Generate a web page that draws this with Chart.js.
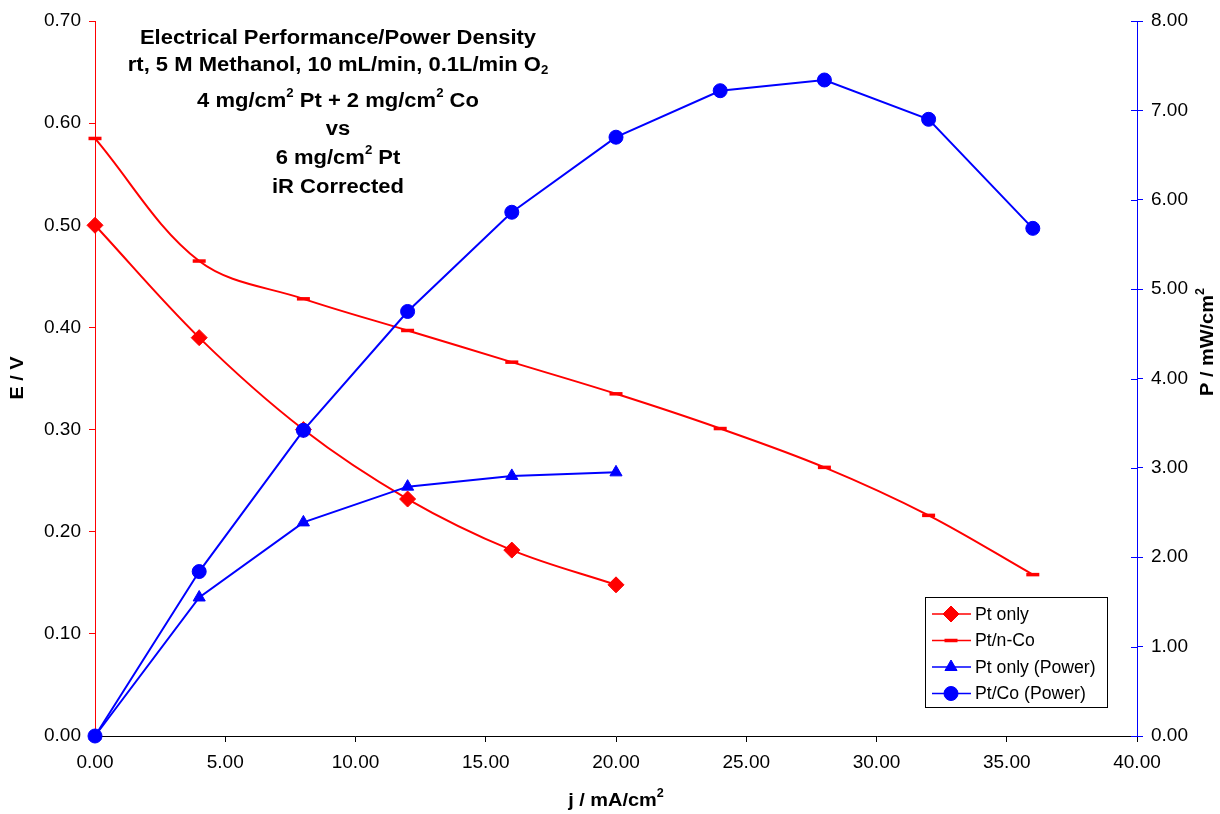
<!DOCTYPE html>
<html>
<head>
<meta charset="utf-8">
<script src="https://cdn.jsdelivr.net/npm/chart.js@4"></script>
<style>
  html, body { margin: 0; padding: 0; background: #fff; }
  #wrap { width: 1220px; height: 814px; }
</style>
</head>
<body>
<div id="wrap"><canvas id="myChart" width="1220" height="814"></canvas></div>
<script>
// current density, mA/cm2
const jPtOnly = [0, 4, 8, 12, 16, 20];
const jPtCo = [0, 4, 8, 12, 16, 20, 24, 28, 32, 36];

// cell voltage, V
const ePtOnly = [0.500, 0.390, 0.300, 0.232, 0.182, 0.148];
const ePtCo = [0.585, 0.465, 0.428, 0.397, 0.366, 0.335, 0.301, 0.263, 0.216, 0.158];

// power density, mW/cm2
const pPtOnly = [0, 1.55, 2.39, 2.79, 2.91, 2.95];
const pPtCo = [0, 1.84, 3.42, 4.75, 5.86, 6.70, 7.22, 7.34, 6.90, 5.68];

const seriesNames = ['Pt only', 'Pt/n-Co', 'Pt only (Power)', 'Pt/Co (Power)'];

const titleLines = [
    [['Electrical Performance/Power Density']],
    [['rt, 5 M Methanol, 10 mL/min, 0.1L/min O'], ['2', 'sub']],
    [['4 mg/cm'], ['2', 'sup'], [' Pt + 2 mg/cm'], ['2', 'sup'], [' Co']],
    [['vs']],
    [['6 mg/cm'], ['2', 'sup'], [' Pt']],
    [['iR Corrected']]
];

const FONT = '"Liberation Sans", Arial, Helvetica, sans-serif';
const RED = '#ff0000';
const BLUE = '#0000ff';

function pairs(xs, ys) {
    return xs.map((x, i) => ({ x: x, y: ys[i] }));
}

// draws a line made of plain / superscript / subscript pieces, centred on cx
// (stretch widens the text a little, the original looks wider than Arial)
function drawRich(ctx, parts, cx, cy, size, stretch) {
    stretch = stretch || 1;
    const big = `bold ${size}px ${FONT}`;
    const small = `bold ${Math.round(size * 0.62)}px ${FONT}`;
    let total = 0;
    parts.forEach(p => {
        ctx.font = p[1] ? small : big;
        total += ctx.measureText(p[0]).width;
    });
    ctx.save();
    ctx.translate(cx, cy);
    ctx.scale(stretch, 1);
    let x = -total / 2;
    ctx.textAlign = 'left';
    ctx.textBaseline = 'middle';
    parts.forEach(p => {
        ctx.font = p[1] ? small : big;
        let dy = 0;
        if (p[1] === 'sup') dy = -size * 0.38;
        if (p[1] === 'sub') dy = size * 0.3;
        ctx.fillText(p[0], x, dy);
        x += ctx.measureText(p[0]).width;
    });
    ctx.restore();
}

const decorPlugin = {
    id: 'decor',
    afterDraw: (chart) => {
        const ctx = chart.ctx;
        const area = chart.chartArea;
        ctx.save();
        ctx.fillStyle = '#000';

        // title block inside the plot
        const tops = [38, 65, 101, 129, 158, 187];
        titleLines.forEach((line, i) => drawRich(ctx, line, 338, tops[i], 20, 1.1));

        // axis titles
        drawRich(ctx, [['j / mA/cm'], ['2', 'sup']], 616, 801, 19, 1.05);
        ctx.save();
        ctx.translate(18, 378);
        ctx.rotate(-Math.PI / 2);
        drawRich(ctx, [['E / V']], 0, 0, 19, 1.05);
        ctx.restore();
        ctx.save();
        ctx.translate(1208, 342);
        ctx.rotate(-Math.PI / 2);
        drawRich(ctx, [['P / mW/cm'], ['2', 'sup']], 0, 0, 19, 1.05);
        ctx.restore();

        // inner half of the right axis tick marks
        const y1 = chart.scales.y1;
        ctx.strokeStyle = BLUE;
        ctx.lineWidth = 1;
        y1.ticks.forEach(t => {
            const py = Math.round(y1.getPixelForValue(t.value)) + 0.5;
            ctx.beginPath();
            ctx.moveTo(area.right - 6, py);
            ctx.lineTo(area.right, py);
            ctx.stroke();
        });

        // legend box
        const lx = 925, ly = 597, lw = 182, lh = 110;
        ctx.fillStyle = '#fff';
        ctx.fillRect(lx, ly, lw, lh);
        ctx.strokeStyle = '#000';
        ctx.lineWidth = 1;
        ctx.strokeRect(lx + 0.5, ly + 0.5, lw, lh);
        chart.data.datasets.forEach((ds, i) => {
            const rowY = 614 + i * 26.5;
            ctx.strokeStyle = ds.borderColor;
            ctx.lineWidth = 1.5;
            ctx.beginPath();
            ctx.moveTo(932, rowY);
            ctx.lineTo(971, rowY);
            ctx.stroke();
            ctx.fillStyle = ds.borderColor;
            ctx.strokeStyle = ds.borderColor;
            ctx.lineWidth = ds.pointBorderWidth || 1;
            Chart.helpers.drawPoint(ctx, {
                pointStyle: ds.pointStyle,
                radius: ds.pointRadius,
                rotation: 0,
                borderWidth: ds.pointBorderWidth || 1
            }, 951, rowY);
            ctx.fillStyle = '#000';
            ctx.font = `18px ${FONT}`;
            ctx.textAlign = 'left';
            ctx.textBaseline = 'middle';
            ctx.save();
            ctx.translate(975, rowY + 1);
            ctx.scale(0.98, 1);
            ctx.fillText(ds.label, 0, 0);
            ctx.restore();
        });
        ctx.restore();
    }
};

const tickFont = { family: FONT, size: 19 };

const configuration = {
    type: 'line',
    data: {
        datasets: [
            {
                label: seriesNames[0],
                data: pairs(jPtOnly, ePtOnly),
                yAxisID: 'y',
                borderColor: RED,
                backgroundColor: RED,
                borderWidth: 2,
                tension: 0.35,
                pointStyle: 'rectRot',
                pointRadius: 8,
                pointBorderWidth: 1,
                clip: false,
                order: 3
            },
            {
                label: seriesNames[1],
                data: pairs(jPtCo, ePtCo),
                yAxisID: 'y',
                borderColor: RED,
                backgroundColor: RED,
                borderWidth: 2,
                tension: 0.35,
                pointStyle: 'line',
                pointRadius: 6.5,
                pointBorderWidth: 3.5,
                clip: false,
                order: 2
            },
            {
                label: seriesNames[2],
                data: pairs(jPtOnly, pPtOnly),
                yAxisID: 'y1',
                borderColor: BLUE,
                backgroundColor: BLUE,
                borderWidth: 2,
                tension: 0,
                pointStyle: 'triangle',
                pointRadius: 7,
                pointBorderWidth: 1,
                clip: false,
                order: 1
            },
            {
                label: seriesNames[3],
                data: pairs(jPtCo, pPtCo),
                yAxisID: 'y1',
                borderColor: BLUE,
                backgroundColor: BLUE,
                borderWidth: 2,
                tension: 0,
                pointStyle: 'circle',
                pointRadius: 7,
                pointBorderWidth: 1,
                clip: false,
                order: 0
            }
        ]
    },
    options: {
        responsive: false,
        animation: false,
        layout: { padding: { top: 21, left: 0, right: 0, bottom: 0 } },
        plugins: {
            legend: { display: false },
            title: { display: false },
            tooltip: { enabled: false }
        },
        scales: {
            x: {
                type: 'linear',
                min: 0,
                max: 40,
                ticks: {
                    stepSize: 5,
                    color: '#000',
                    font: tickFont,
                    padding: 9,
                    maxRotation: 0,
                    callback: (v) => v.toFixed(2)
                },
                grid: { drawOnChartArea: false, tickLength: 6, color: '#000' },
                border: { color: '#000', width: 1 },
                afterFit: (scale) => { scale.height = 78; }
            },
            y: {
                position: 'left',
                min: 0,
                max: 0.7,
                ticks: {
                    stepSize: 0.1,
                    color: '#000',
                    font: tickFont,
                    padding: 8,
                    callback: (v) => v.toFixed(2)
                },
                grid: { drawOnChartArea: false, tickLength: 6, color: RED },
                border: { color: RED, width: 1 },
                afterFit: (scale) => { scale.width = 95; }
            },
            y1: {
                position: 'right',
                min: 0,
                max: 8,
                ticks: {
                    stepSize: 1,
                    color: '#000',
                    font: tickFont,
                    padding: 8,
                    callback: (v) => v.toFixed(2)
                },
                grid: { drawOnChartArea: false, tickLength: 6, color: BLUE },
                border: { color: BLUE, width: 1 },
                afterFit: (scale) => { scale.width = 83; }
            }
        }
    },
    plugins: [decorPlugin, {
        beforeDraw: (chart) => {
            const ctx = chart.canvas.getContext('2d');
            ctx.save();
            ctx.globalCompositeOperation = 'destination-over';
            ctx.fillStyle = 'white';
            ctx.fillRect(0, 0, chart.width, chart.height);
            ctx.restore();
        }
    }]
};

document.addEventListener('DOMContentLoaded', () => {
    new Chart(document.getElementById('myChart'), configuration);
});
</script>
</body>
</html>
